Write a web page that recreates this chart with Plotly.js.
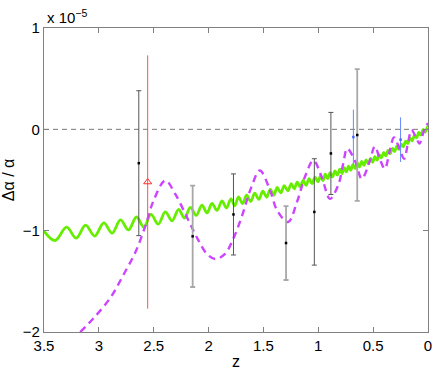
<!DOCTYPE html>
<html>
<head>
<meta charset="utf-8">
<script src="https://cdn.plot.ly/plotly-3.0.1.min.js"></script>
<style>html,body{margin:0;padding:0;background:#fff;}#chart{width:436px;height:371px;}</style>
</head>
<body>
<div id="chart"></div>
<script>
// ---- data (units of 1e-5) ----
const greenZ = [3.5, 3.40, 3.294, 3.207, 3.121, 3.038, 2.955, 2.879, 2.803, 2.730,
  2.657, 2.590, 2.524, 2.459, 2.394, 2.333, 2.273, 2.219, 2.166, 2.113,
  2.060, 2.014, 1.969, 1.923, 1.878, 1.837, 1.796, 1.761, 1.727, 1.690,
  1.653, 1.616, 1.579, 1.542, 1.505, 1.470, 1.438, 1.406, 1.374, 1.342,
  1.310, 1.278, 1.246, 1.219, 1.192, 1.165, 1.138, 1.111, 1.084, 1.057,
  1.030, 1.003, 0.980, 0.958, 0.936, 0.914, 0.892, 0.870, 0.848, 0.826,
  0.804, 0.784, 0.764, 0.744, 0.724, 0.704, 0.684, 0.664, 0.644, 0.624,
  0.604, 0.584, 0.564, 0.544, 0.524, 0.504, 0.484, 0.464, 0.444, 0.424,
  0.404, 0.384, 0.364, 0.344, 0.324, 0.304, 0.284, 0.264, 0.244, 0.224,
  0.204, 0.184, 0.164, 0.144, 0.124, 0.104, 0.084, 0.064, 0.044, 0.024,
  0.004, 0.0];
const greenV = [-1.005, -1.097, -0.966, -1.074, -0.946, -1.053, -0.923, -1.024, -0.894, -0.993,
  -0.865, -0.964, -0.840, -0.935, -0.815, -0.904, -0.791, -0.876, -0.771, -0.850,
  -0.749, -0.825, -0.731, -0.800, -0.707, -0.776, -0.686, -0.754, -0.668, -0.733,
  -0.649, -0.712, -0.630, -0.691, -0.611, -0.670, -0.592, -0.649, -0.573, -0.628,
  -0.555, -0.608, -0.536, -0.588, -0.520, -0.570, -0.504, -0.553, -0.487, -0.536,
  -0.471, -0.519, -0.460, -0.506, -0.443, -0.487, -0.427, -0.470, -0.410, -0.452,
  -0.394, -0.436, -0.378, -0.420, -0.363, -0.404, -0.348, -0.388, -0.332, -0.371,
  -0.317, -0.356, -0.302, -0.340, -0.286, -0.325, -0.270, -0.303, -0.249, -0.282,
  -0.228, -0.262, -0.207, -0.240, -0.187, -0.219, -0.167, -0.198, -0.145, -0.172,
  -0.116, -0.142, -0.088, -0.114, -0.059, -0.085, -0.030, -0.056, -0.002, -0.027,
  0.027, 0.02];

const magentaZ = [3.17, 3.045, 2.894, 2.773, 2.666, 2.575, 2.50, 2.394, 2.303, 2.196,
  2.105, 2.015, 1.939, 1.85, 1.775, 1.70, 1.61, 1.533, 1.44, 1.375,
  1.275, 1.195, 1.115, 1.045, 0.969, 0.894, 0.818, 0.773, 0.736, 0.666,
  0.603, 0.53, 0.485, 0.44, 0.394, 0.348, 0.31, 0.257, 0.218, 0.18,
  0.15, 0.106, 0.078, 0.03, 0.0];
const magentaV = [-2.0, -1.86, -1.66, -1.43, -1.21, -0.95, -0.70, -0.505, -0.64, -0.87,
  -1.07, -1.23, -1.28, -1.23, -1.08, -0.87, -0.57, -0.406, -0.60, -0.80,
  -0.915, -0.72, -0.45, -0.307, -0.47, -0.686, -0.55, -0.34, -0.19, -0.31,
  -0.488, -0.31, -0.168, -0.29, -0.39, -0.21, -0.08, -0.20, -0.29, -0.12,
  -0.005, -0.09, -0.14, 0.01, 0.06];

// black points, dark error bars
const darkZ = [2.636, 1.773, 1.036, 0.885];
const darkV = [-0.334, -0.84, -0.815, -0.238];
const darkErr = [0.715, 0.40, 0.525, 0.405];
// black points, light error bars
const lightZ = [2.145, 1.294, 0.645];
const lightV = [-1.056, -1.122, -0.056];
const lightErr = [0.50, 0.365, 0.65];
// red triangle
const redZ = [2.555];
const redV = [-0.52];
const redErr = [1.25];
// blue points
const blueZ = [0.68, 0.25];
const blueV = [-0.076, -0.102];
const blueErr = [0.27, 0.22];

const xTickVals = [3.5, 3, 2.5, 2, 1.5, 1, 0.5, 0];
const xTickText = ['3.5', '3', '2.5', '2', '1.5', '1', '0.5', '0'];
const yTickVals = [-2, -1, 0, 1];
const yTickText = ['\u22122', '\u22121', '0', '1'];
const zeroLevel = 0;

const traces = [
  {x: greenZ, y: greenV, mode: 'lines', line: {color: '#66ee00', width: 2.8, shape: 'spline', smoothing: 1}, hoverinfo: 'skip'},
  {x: magentaZ, y: magentaV, mode: 'lines', line: {color: '#cc44ff', width: 2.4, dash: '7px,5px', shape: 'spline', smoothing: 1}, hoverinfo: 'skip'},
  {x: lightZ, y: lightV, mode: 'markers', marker: {color: '#000', size: 2.5, symbol: 'square'},
   error_y: {type: 'data', array: lightErr, visible: true, color: '#a8a8a8', thickness: 1.8, width: 2.5}},
  {x: darkZ, y: darkV, mode: 'markers', marker: {color: '#000', size: 2.5, symbol: 'square'},
   error_y: {type: 'data', array: darkErr, visible: true, color: '#555555', thickness: 1, width: 2.5}},
  {x: redZ, y: redV, mode: 'markers', marker: {color: '#ff3030', size: 7, symbol: 'triangle-up-open', line: {width: 1, color: '#ff3030'}},
   error_y: {type: 'data', array: redErr, visible: true, color: '#ff5050', thickness: 1, width: 0}},
  {x: blueZ, y: blueV, mode: 'markers', marker: {color: '#4466ff', size: 2.5, symbol: 'square'},
   error_y: {type: 'data', array: blueErr, visible: true, color: '#6688ff', thickness: 1, width: 0}}
];

const fontFam = '"Liberation Sans", Arial, Helvetica, sans-serif';
const layout = {
  width: 436, height: 371,
  margin: {l: 44, r: 8, t: 28, b: 39},
  paper_bgcolor: '#fff', plot_bgcolor: '#fff',
  showlegend: false,
  font: {family: fontFam, size: 15, color: '#000'},
  xaxis: {
    range: [3.5, 0], autorange: false,
    tickmode: 'array', tickvals: xTickVals, ticktext: xTickText,
    ticks: 'inside', ticklen: 5, tickcolor: '#808080', tickwidth: 1,
    showline: true, linecolor: '#808080', linewidth: 1.2, mirror: 'ticks',
    showgrid: false, zeroline: false,
    tickfont: {size: 15, color: '#000'},
    title: {text: 'z', font: {size: 16, color: '#000'}, standoff: 2}
  },
  yaxis: {
    range: [-2, 1], autorange: false,
    tickmode: 'array', tickvals: yTickVals, ticktext: yTickText,
    ticks: 'inside', ticklen: 5, tickcolor: '#808080', tickwidth: 1,
    showline: true, linecolor: '#808080', linewidth: 1.2, mirror: 'ticks',
    showgrid: false, zeroline: false,
    tickfont: {size: 15, color: '#000'},
    title: {text: '\u0394\u03b1 / \u03b1', font: {size: 16, color: '#000'}, standoff: 6}
  },
  shapes: [
    {type: 'line', xref: 'paper', x0: 0, x1: 1, yref: 'y', y0: zeroLevel, y1: zeroLevel,
     line: {color: '#777777', width: 1, dash: '5px,4px'}, layer: 'below'}
  ],
  annotations: [
    {xref: 'paper', yref: 'paper', x: 0, y: 1, xanchor: 'left', yanchor: 'bottom',
     xshift: 1, yshift: 0, showarrow: false,
     text: 'x 10<sup>\u22125</sup>', font: {size: 15, color: '#000'}}
  ]
};

Plotly.newPlot('chart', traces, layout, {displayModeBar: false, staticPlot: true});
</script>
</body>
</html>
